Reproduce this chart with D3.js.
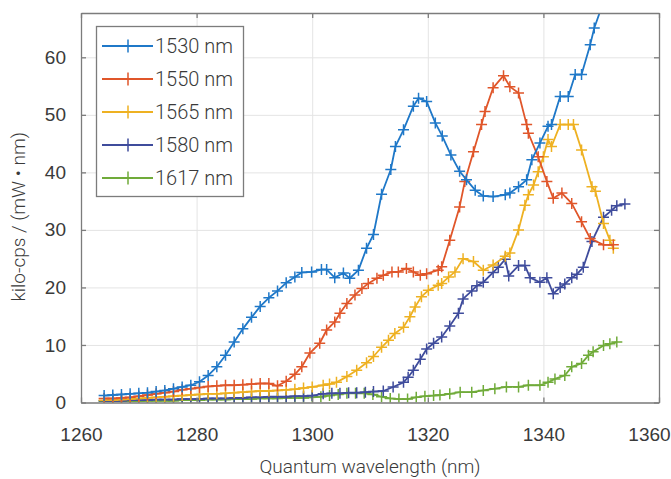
<!DOCTYPE html>
<html>
<head>
<meta charset="utf-8">
<script src="https://cdn.jsdelivr.net/npm/d3@7"></script>
<style>
  body { margin: 0; background: #fff; }
  svg { display: block; font-family: Roboto, "Noto Sans", sans-serif; font-weight: 300; }
  .grid line { stroke: #e4e4e4; stroke-width: 1; }
  .grid .domain { display: none; }
  .axis .domain { stroke: #7c7c7c; stroke-width: 1.3; }
  .axis line { stroke: #7c7c7c; stroke-width: 1.3; }
  .axis text { fill: #3a3a3a; font-size: 19px; }
</style>
</head>
<body>
<svg width="671" height="479"></svg>
<script>
// series (wavelength in nm, kilo-cps / (mW nm))
const labels = ['1530 nm', '1550 nm', '1565 nm', '1580 nm', '1617 nm'];
const colors = ['#1f78c8', '#e0562a', '#eeb122', '#3f4c9c', '#70ab3a'];

const x1530 = [1264, 1265.5, 1267, 1268.5, 1270, 1271.5, 1273, 1274.5, 1276, 1277.5, 1279, 1280.5, 1282, 1283.5, 1285, 1286.5, 1288, 1289.5, 1291, 1292.5, 1294, 1295.5, 1297, 1298.2, 1299.9, 1301.6, 1302.5, 1303.9, 1305.4, 1306.5, 1308, 1309.4, 1310.6, 1312, 1313.6, 1314.4, 1315.8, 1317.5, 1318.4, 1319.8, 1321.3, 1322.5, 1324, 1325.5, 1326.7, 1328.2, 1329.6, 1331.3, 1333.4, 1334.2, 1335.7, 1337.1, 1338, 1339.4, 1340.8, 1341.4, 1342.9, 1344.3, 1345.5, 1346.6, 1348.1, 1348.8, 1350, 1351.2];
const y1530 = [1.2, 1.3, 1.4, 1.5, 1.6, 1.7, 1.9, 2.1, 2.4, 2.7, 3.0, 3.6, 4.7, 6.2, 8.2, 10.5, 12.8, 14.8, 16.7, 18.2, 19.4, 20.8, 21.8, 22.6, 22.7, 23.1, 23.1, 21.7, 22.5, 21.6, 23.0, 26.8, 29.2, 36.2, 40.5, 44.5, 47.4, 51.5, 52.9, 52.3, 48.6, 46.3, 43.0, 40.2, 38.7, 36.9, 35.9, 35.8, 36.1, 36.4, 37.5, 38.7, 42.2, 45.1, 48.0, 48.3, 53.2, 53.2, 57.0, 57.0, 62.2, 65.1, 68.5, 72.0];

const x1550 = [1264, 1265.5, 1267, 1268.5, 1270, 1271.5, 1273, 1274.5, 1276, 1277.5, 1279, 1280.5, 1282, 1283.5, 1285, 1286.5, 1288, 1289.5, 1291, 1292.5, 1294, 1295.5, 1297, 1298.2, 1299.6, 1301.3, 1302.5, 1303.9, 1304.8, 1306, 1307.4, 1308.6, 1309.7, 1311.2, 1312.3, 1313.8, 1314.9, 1316.3, 1317.5, 1318.7, 1319.8, 1321.8, 1322.4, 1323.8, 1325.5, 1326.4, 1327.9, 1329.3, 1329.9, 1331.3, 1333.1, 1334.2, 1335.7, 1337.1, 1337.4, 1339.1, 1340.6, 1341.7, 1343.2, 1344.9, 1346.6, 1348.1, 1350.4, 1352.1];
const y1550 = [0.7, 0.7, 0.8, 0.9, 1.1, 1.3, 1.5, 1.7, 1.9, 2.2, 2.4, 2.6, 2.8, 2.9, 3.0, 3.0, 3.1, 3.2, 3.3, 3.3, 2.9, 3.7, 4.9, 6.2, 8.6, 10.3, 12.6, 14.0, 15.5, 17.2, 18.7, 19.8, 20.7, 21.6, 22.1, 22.7, 22.7, 23.3, 22.7, 22.1, 22.4, 23.0, 23.6, 28.2, 34.0, 38.4, 43.6, 48.3, 50.6, 54.7, 56.8, 54.9, 53.8, 48.3, 46.8, 42.7, 38.4, 35.5, 36.4, 34.6, 31.4, 28.5, 27.4, 27.4];

const x1565 = [1264, 1265.5, 1267, 1268.5, 1270, 1271.5, 1273, 1274.5, 1276, 1277.5, 1279, 1280.5, 1282, 1283.5, 1285, 1286.5, 1288, 1289.5, 1291, 1292.5, 1294, 1295.5, 1297, 1298.5, 1300, 1301.9, 1303, 1304.2, 1306, 1307.7, 1309.4, 1310.6, 1312, 1313.2, 1314.3, 1315.8, 1316.9, 1317.8, 1318.9, 1320.1, 1321.8, 1322.4, 1323.6, 1324.7, 1326.1, 1327.9, 1329.6, 1331.3, 1333.4, 1334.2, 1335.7, 1336.8, 1337.4, 1338.3, 1339.1, 1340, 1340.8, 1341.4, 1342.9, 1344.3, 1345.2, 1346.6, 1348.4, 1349, 1350.4, 1351.5, 1352.1];
const y1565 = [0.4, 0.4, 0.5, 0.6, 0.7, 0.8, 0.9, 1.0, 1.1, 1.2, 1.3, 1.4, 1.5, 1.5, 1.6, 1.7, 1.8, 1.9, 2.0, 2.0, 2.1, 2.2, 2.3, 2.5, 2.7, 3.0, 3.2, 3.5, 4.5, 5.6, 6.9, 8.0, 9.6, 10.8, 12.0, 13.1, 14.9, 16.6, 18.4, 19.5, 20.4, 20.7, 21.8, 22.7, 25.0, 24.5, 23.0, 23.9, 25.4, 26.0, 30.0, 34.3, 36.1, 37.8, 40.1, 42.7, 45.7, 44.5, 48.3, 48.3, 48.3, 43.9, 37.5, 36.7, 31.1, 28.2, 26.8];

const x1580 = [1264, 1265.5, 1267, 1268.5, 1270, 1271.5, 1273, 1274.5, 1276, 1277.5, 1279, 1280.5, 1282, 1283.5, 1285, 1286.5, 1288, 1289.5, 1291, 1292.5, 1294, 1295.5, 1297, 1298.5, 1300, 1301.9, 1303.4, 1304.8, 1306.3, 1307.7, 1309.2, 1310.6, 1312.3, 1314, 1315.8, 1316.6, 1317.5, 1318.7, 1319.8, 1321, 1322.4, 1323.8, 1325.3, 1326.1, 1327.6, 1328.5, 1329.6, 1331.3, 1332.2, 1333.4, 1334, 1335.7, 1336.8, 1337.7, 1339.4, 1340.6, 1341.7, 1342.9, 1343.7, 1344.9, 1345.8, 1346.9, 1348.4, 1350.4, 1351.8, 1352.7, 1354.1];
const y1580 = [0.3, 0.3, 0.3, 0.4, 0.4, 0.4, 0.5, 0.5, 0.5, 0.6, 0.6, 0.6, 0.7, 0.7, 0.7, 0.8, 0.8, 0.9, 0.9, 1.0, 1.0, 1.0, 1.1, 1.1, 1.2, 1.5, 1.6, 1.6, 1.7, 1.7, 1.8, 1.9, 2.0, 2.7, 3.5, 4.4, 5.6, 7.5, 9.3, 10.3, 11.4, 13.3, 15.5, 18.0, 19.4, 20.3, 20.9, 22.6, 23.5, 24.9, 22.0, 23.8, 23.8, 21.7, 20.9, 21.7, 18.9, 20.0, 20.6, 21.7, 22.3, 23.5, 28.0, 32.2, 33.4, 34.2, 34.5];

const x1617 = [1264, 1265.5, 1267, 1268.5, 1270, 1271.5, 1273, 1274.5, 1276, 1277.5, 1279, 1280.5, 1282, 1283.5, 1285, 1286.5, 1288, 1289.5, 1291, 1292.5, 1294, 1295.5, 1297, 1298.5, 1300, 1301.5, 1303, 1304.5, 1306, 1307.5, 1309, 1310.5, 1312, 1313.5, 1315, 1316.5, 1318, 1319.5, 1321, 1322.1, 1323.8, 1325.6, 1327.6, 1329.6, 1331.6, 1333.6, 1335.7, 1337.4, 1339.4, 1340.8, 1342, 1343.7, 1344.9, 1346.6, 1347.8, 1348.6, 1350.4, 1351.5, 1352.7];
const y1617 = [0.2, 0.2, 0.2, 0.2, 0.2, 0.3, 0.3, 0.3, 0.3, 0.4, 0.4, 0.4, 0.5, 0.5, 0.5, 0.6, 0.6, 0.6, 0.7, 0.7, 0.7, 0.8, 0.8, 0.8, 0.9, 1.0, 1.2, 1.4, 1.6, 1.6, 1.6, 1.4, 1.0, 0.7, 0.6, 0.6, 0.9, 1.1, 1.2, 1.3, 1.5, 1.8, 1.8, 2.1, 2.4, 2.7, 2.7, 3.0, 3.0, 3.5, 4.1, 4.7, 6.2, 6.8, 8.2, 8.8, 9.9, 10.2, 10.5];

const xTicks = [1260, 1280, 1300, 1320, 1340, 1360];
const yTicks = [0, 10, 20, 30, 40, 50, 60];

const series = [
  [x1530, y1530], [x1550, y1550], [x1565, y1565], [x1580, y1580], [x1617, y1617]
].map(([xs, ys], i) => ({
  label: labels[i],
  color: colors[i],
  points: xs.map((d, j) => [d, ys[j]])
}));

function draw () {
  let svg = d3.select('svg');

  let left = 81, right = 659, top = 13, bottom = 402.5;

  let x = d3.scaleLinear().domain([1260, 1360]).range([left, right]),
      y = d3.scaleLinear().domain([0, 67.7]).range([bottom, top]);

  // Grid
  svg.append('g')
    .attr('class', 'grid')
    .attr('transform', `translate(0, ${bottom})`)
    .call(d3.axisBottom(x).tickValues(xTicks).tickSize(-(bottom - top)).tickFormat(''));

  svg.append('g')
    .attr('class', 'grid')
    .attr('transform', `translate(${left}, 0)`)
    .call(d3.axisLeft(y).tickValues(yTicks).tickSize(-(right - left)).tickFormat(''));

  // Curves
  svg.append('clipPath')
    .attr('id', 'plot-clip')
    .append('rect')
      .attr('x', left)
      .attr('y', top)
      .attr('width', right - left)
      .attr('height', bottom - top);

  let line = d3.line().x(d => x(d[0])).y(d => y(d[1]));
  let plus = 5.5;

  let curve = svg.append('g')
    .attr('clip-path', 'url(#plot-clip)')
    .selectAll('.curve')
    .data(series.slice().reverse())
    .enter().append('g')
      .attr('class', 'curve')
      .attr('stroke', d => d.color)
      .attr('fill', 'none');

  curve.append('path')
    .attr('stroke-width', 1.8)
    .attr('stroke-linejoin', 'round')
    .attr('d', d => line(d.points));

  curve.selectAll('path.marker')
    .data(d => d.points)
    .enter().append('path')
      .attr('class', 'marker')
      .attr('stroke-width', 1.5)
      .attr('d', d => {
        let cx = x(d[0]), cy = y(d[1]);
        return `M${cx - plus},${cy}H${cx + plus}M${cx},${cy - plus}V${cy + plus}`;
      });

  // Axes: box with inward ticks
  svg.append('g')
    .attr('class', 'axis')
    .attr('transform', `translate(0, ${bottom})`)
    .call(d3.axisBottom(x).tickValues(xTicks).tickFormat(d3.format('d'))
      .tickSizeInner(-5).tickSizeOuter(0).tickPadding(25))
    .call(g => g.selectAll('.tick:last-of-type text').attr('dx', -10));

  svg.append('g')
    .attr('class', 'axis')
    .attr('transform', `translate(0, ${top})`)
    .call(d3.axisTop(x).tickValues(xTicks).tickSizeInner(-5).tickSizeOuter(0).tickFormat(''));

  svg.append('g')
    .attr('class', 'axis')
    .attr('transform', `translate(${left}, 0)`)
    .call(d3.axisLeft(y).tickValues(yTicks).tickSizeInner(-5).tickSizeOuter(0).tickPadding(15));

  svg.append('g')
    .attr('class', 'axis')
    .attr('transform', `translate(${right}, 0)`)
    .call(d3.axisRight(y).tickValues(yTicks).tickSizeInner(-5).tickSizeOuter(0).tickFormat(''));

  // Axis titles
  svg.append('text')
    .attr('x', (left + right) / 2)
    .attr('y', 473)
    .attr('text-anchor', 'middle')
    .attr('fill', '#3a3a3a')
    .attr('font-size', 19)
    .text('Quantum wavelength (nm)');

  svg.append('text')
    .attr('transform', `translate(25, ${(top + bottom) / 2 + 9}) rotate(-90)`)
    .attr('text-anchor', 'middle')
    .attr('fill', '#3a3a3a')
    .attr('font-size', 19)
    .text('kilo-cps / (mW \u2022 nm)');

  // Legend
  let legend = svg.append('g').attr('class', 'legend');

  legend.append('rect')
    .attr('x', 96.5)
    .attr('y', 26.5)
    .attr('width', 147)
    .attr('height', 170)
    .attr('fill', '#fff')
    .attr('stroke', '#7c7c7c')
    .attr('stroke-width', 1.3);

  let item = legend.selectAll('.item')
    .data(series)
    .enter().append('g')
      .attr('class', 'item')
      .attr('transform', (d, i) => `translate(0, ${46 + i * 33})`);

  item.append('path')
    .attr('stroke', d => d.color)
    .attr('stroke-width', 1.8)
    .attr('d', 'M102,0H153');

  item.append('path')
    .attr('stroke', d => d.color)
    .attr('stroke-width', 1.5)
    .attr('d', `M${128 - plus},0H${128 + plus}M128,${-plus - 1}V${plus + 1}`);

  item.append('text')
    .attr('x', 155)
    .attr('y', 7)
    .attr('fill', '#3a3a3a')
    .attr('font-size', 20)
    .text(d => d.label);
}

document.addEventListener('DOMContentLoaded', draw);
</script>
</body>
</html>
